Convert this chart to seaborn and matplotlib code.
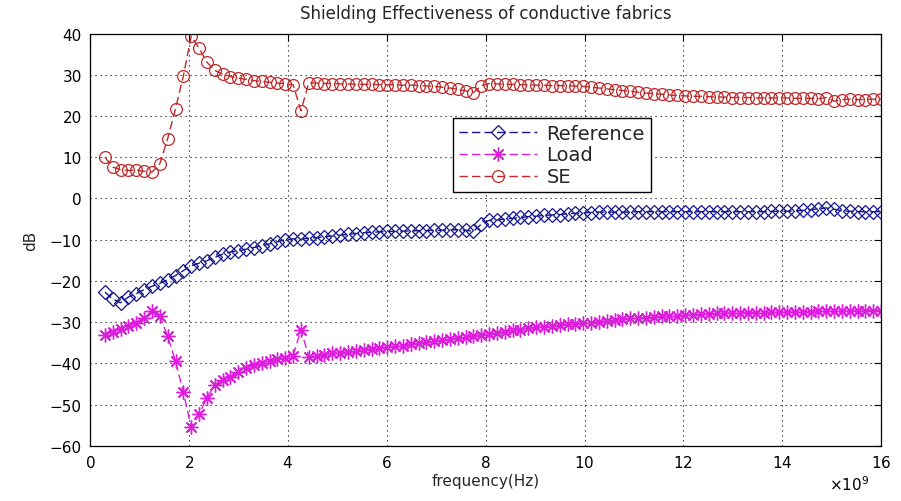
import numpy as np
import pandas as pd
import matplotlib
matplotlib.use("Agg")
import matplotlib.pyplot as plt
import seaborn as sns
from matplotlib.ticker import ScalarFormatter

# sampled frequencies (Hz): 100 points from 0.3 GHz to 16 GHz
freq = np.linspace(0.3e9, 16e9, 100)

reference = [
    -22.7, -24.4, -25.3, -23.9, -23.1, -22.1, -21.3, -20.6, -19.7, -18.7,
    -17.5, -16.3, -15.7, -15.1, -14.3, -13.5, -13.0, -12.7, -12.3, -11.9,
    -11.5, -11.0, -10.5, -10.0, -9.8, -9.9, -9.6, -9.5, -9.3, -9.1,
    -8.9, -8.7, -8.5, -8.3, -8.2, -8.1, -8.0, -8.0, -7.9, -7.9,
    -7.8, -7.8, -7.7, -7.7, -7.6, -7.6, -7.7, -8.0, -6.2, -5.3,
    -5.2, -5.0, -4.8, -4.6, -4.4, -4.3, -4.1, -4.0, -3.9, -3.7,
    -3.6, -3.5, -3.4, -3.3, -3.3, -3.3, -3.3, -3.3, -3.2, -3.2,
    -3.2, -3.2, -3.2, -3.2, -3.2, -3.2, -3.2, -3.2, -3.2, -3.2,
    -3.2, -3.2, -3.2, -3.2, -3.2, -3.1, -3.1, -3.1, -3.0, -2.9,
    -2.7, -2.5, -2.3, -2.6, -3.0, -3.1, -3.2, -3.2, -3.2, -3.2,
]

load = [
    -33.1, -32.4, -31.7, -31.0, -30.2, -29.0, -27.2, -28.4, -33.4, -39.5,
    -47.0, -55.5, -52.4, -48.3, -45.3, -44.1, -43.2, -42.0, -41.1, -40.5,
    -40.0, -39.5, -39.0, -38.6, -38.2, -31.8, -38.4, -38.2, -37.9, -37.6,
    -37.4, -37.2, -37.0, -36.7, -36.5, -36.3, -36.1, -35.9, -35.7, -35.4,
    -35.1, -34.9, -34.6, -34.4, -34.1, -33.8, -33.6, -33.3, -33.1, -32.8,
    -32.6, -32.3, -32.0, -31.8, -31.5, -31.3, -31.1, -30.9, -30.7, -30.5,
    -30.4, -30.3, -30.1, -29.9, -29.7, -29.5, -29.3, -29.1, -29.0, -28.9,
    -28.8, -28.6, -28.5, -28.4, -28.3, -28.2, -28.1, -28.0, -27.9, -27.9,
    -27.8, -27.8, -27.7, -27.7, -27.7, -27.6, -27.6, -27.6, -27.5, -27.5,
    -27.5, -27.4, -27.4, -27.4, -27.3, -27.3, -27.3, -27.2, -27.2, -27.2,
]

se = [
    10.0, 7.6, 7.0, 6.8, 6.9, 6.6, 6.4, 8.4, 14.5, 21.8,
    29.7, 39.4, 36.5, 33.1, 31.1, 30.2, 29.6, 29.2, 28.9, 28.6,
    28.4, 28.2, 28.0, 27.9, 27.6, 21.3, 28.1, 28.0, 27.9, 27.9,
    27.8, 27.8, 27.7, 27.7, 27.7, 27.6, 27.6, 27.6, 27.5, 27.5,
    27.4, 27.3, 27.2, 27.0, 26.8, 26.5, 26.1, 25.7, 27.4, 27.9,
    27.8, 27.7, 27.7, 27.6, 27.6, 27.5, 27.5, 27.4, 27.4, 27.3,
    27.3, 27.2, 27.0, 26.8, 26.6, 26.4, 26.2, 26.0, 25.8, 25.6,
    25.4, 25.3, 25.1, 25.0, 24.9, 24.8, 24.8, 24.7, 24.6, 24.6,
    24.5, 24.5, 24.5, 24.4, 24.4, 24.4, 24.4, 24.4, 24.3, 24.3,
    24.3, 24.2, 24.5, 23.6, 24.0, 24.1, 24.0, 24.0, 24.1, 24.1,
]

df = pd.DataFrame({"freq": freq, "Reference": reference, "Load": load, "SE": se})

sns.set_theme(style="white")
plt.rcParams["font.family"] = ["DejaVu Sans"]

fig = plt.figure(figsize=(9.01, 5.02), dpi=100)
ax = fig.add_axes([0.100, 0.110, 0.878, 0.821])

dash = (0, (6, 3))
sns.lineplot(data=df, x="freq", y="Reference", ax=ax, color="#14148c", marker="D",
             markersize=7, mfc="none", mec="#14148c", mew=0.9, linestyle=dash,
             linewidth=1, label="Reference")
sns.lineplot(data=df, x="freq", y="Load", ax=ax, color="#dc1edc", marker=(8, 2, 0),
             markersize=10, mec="#dc1edc", mew=1.0, linestyle=dash,
             linewidth=1, label="Load")
sns.lineplot(data=df, x="freq", y="SE", ax=ax, color="#c0282a", marker="o",
             markersize=8.5, mfc="none", mec="#c0282a", mew=0.9, linestyle=dash,
             linewidth=1, label="SE")

ax.set_xlim(0, 16e9)
ax.set_ylim(-60, 40)
ax.set_xticks(np.arange(0, 17e9, 2e9))
ax.set_yticks(np.arange(-60, 41, 10))
fmt = ScalarFormatter(useMathText=True)
fmt.set_powerlimits((9, 9))
ax.xaxis.set_major_formatter(fmt)
ax.xaxis.get_offset_text().set_fontsize(11)
ax.xaxis.get_offset_text().set_x(0.985)

ax.grid(True, color="black", linestyle=(0, (1, 3.5)), linewidth=0.8)
ax.tick_params(direction="in", length=5, width=0.8, top=True, right=True,
               labelsize=11, colors="black", pad=6)
for s in ax.spines.values():
    s.set_color("black")
    s.set_linewidth(0.9)

ax.set_title("Shielding Effectiveness of conductive fabrics", fontsize=12, pad=11)
ax.set_xlabel("frequency(Hz)", fontsize=11, labelpad=2)
ax.set_ylabel("dB", fontsize=11, labelpad=8)

leg = ax.legend(loc="upper left", bbox_to_anchor=(0.459, 0.796), borderaxespad=0,
                fontsize=14, frameon=True, fancybox=False, edgecolor="black",
                framealpha=1, handlelength=4.0, borderpad=0.3, labelspacing=0.15,
                handletextpad=0.5)
leg.get_frame().set_linewidth(1.0)

fig.savefig("out.png", dpi=100)
